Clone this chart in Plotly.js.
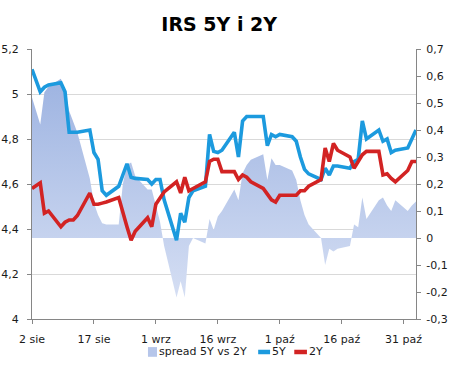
<!DOCTYPE html>
<html>
<head>
<meta charset="utf-8">
<script src="https://cdn.plot.ly/plotly-3.0.1.min.js"></script>
<style>html,body{margin:0;padding:0;background:#fff;}#chart{width:452px;height:365px;}</style>
</head>
<body>
<div id="chart"></div>
<script>
const dates = [
 '2010-08-02','2010-08-03','2010-08-04','2010-08-05','2010-08-06',
 '2010-08-09','2010-08-10','2010-08-11','2010-08-12','2010-08-13',
 '2010-08-16','2010-08-17','2010-08-18','2010-08-19','2010-08-20',
 '2010-08-23','2010-08-24','2010-08-25','2010-08-26','2010-08-27',
 '2010-08-30','2010-08-31','2010-09-01','2010-09-02','2010-09-03',
 '2010-09-06','2010-09-07','2010-09-08','2010-09-09','2010-09-10',
 '2010-09-13','2010-09-14','2010-09-15','2010-09-16','2010-09-17',
 '2010-09-20','2010-09-21','2010-09-22','2010-09-23','2010-09-24',
 '2010-09-27','2010-09-28','2010-09-29','2010-09-30','2010-10-01',
 '2010-10-04','2010-10-05','2010-10-06','2010-10-07','2010-10-08',
 '2010-10-11','2010-10-12','2010-10-13','2010-10-14','2010-10-15',
 '2010-10-18','2010-10-19','2010-10-20','2010-10-21','2010-10-22',
 '2010-10-25','2010-10-26','2010-10-27','2010-10-28','2010-10-29',
 '2010-11-01','2010-11-02','2010-11-03'
];
const rate5Y = [
 5.11,5.06,5.01,5.03,5.04,
 5.05,5.01,4.83,4.83,4.83,
 4.84,4.74,4.71,4.57,4.55,
 4.59,4.64,4.69,4.63,4.625,
 4.62,4.60,4.62,4.62,4.53,
 4.35,4.47,4.43,4.54,4.57,
 4.59,4.82,4.745,4.74,4.75,
 4.83,4.72,4.88,4.90,4.90,
 4.90,4.77,4.82,4.81,4.82,
 4.81,4.79,4.72,4.665,4.645,
 4.62,4.67,4.64,4.68,4.68,
 4.67,4.70,4.71,4.88,4.80,
 4.84,4.79,4.80,4.74,4.75,
 4.76,4.80,4.84
];
const rate2Y = [
 4.58,4.595,4.605,4.47,4.48,
 4.41,4.43,4.44,4.44,4.46,
 4.56,4.51,4.51,4.515,4.52,
 4.54,4.47,4.41,4.35,4.39,
 4.45,4.41,4.51,4.54,4.565,
 4.61,4.56,4.63,4.57,4.58,
 4.61,4.70,4.71,4.71,4.655,
 4.655,4.62,4.64,4.63,4.61,
 4.58,4.555,4.53,4.52,4.55,
 4.55,4.55,4.57,4.57,4.59,
 4.62,4.76,4.70,4.78,4.75,
 4.72,4.67,4.70,4.73,4.745,
 4.745,4.64,4.645,4.625,4.61,
 4.66,4.70,4.70
];
const spread = [
 0.52,0.47,0.42,0.54,0.56,
 0.59,0.54,0.47,0.43,0.39,
 0.22,0.13,0.085,0.055,0.05,
 0.05,0.20,0.27,0.28,0.23,
 0.18,0.18,0.12,0.06,-0.03,
 -0.22,-0.16,-0.22,-0.03,0.0,
 -0.02,0.07,0.03,0.08,0.10,
 0.18,0.14,0.24,0.27,0.29,
 0.31,0.215,0.295,0.27,0.27,
 0.25,0.215,0.14,0.085,0.05,
 0.0,-0.10,-0.04,-0.05,-0.04,
 -0.03,0.05,0.04,0.15,0.07,
 0.14,0.15,0.12,0.10,0.14,
 0.10,0.12,0.135
];
const seriesNames = ['spread 5Y vs 2Y', '5Y', '2Y'];
const xTickVals = ['2010-08-02','2010-08-17','2010-09-01','2010-09-16','2010-10-01','2010-10-16','2010-10-31'];
const xTickText = ['2 sie','17 sie','1 wrz','16 wrz','1 paź','16 paź','31 paź'];
const yLeftVals = [4,4.2,4.4,4.6,4.8,5,5.2];
const yLeftText = ['4','4,2','4,4','4,6','4,8','5','5,2'];
const yRightVals = [-0.3,-0.2,-0.1,0,0.1,0.2,0.3,0.4,0.5,0.6,0.7];
const yRightText = ['-0,3','-0,2','-0,1','0','0,1','0,2','0,3','0,4','0,5','0,6','0,7'];

const axisColor = '#868686';
const blue = '#1c9ade', red = '#d22323', areaCol = '#b6c6ea';
const font = {family: 'DejaVu Sans, Verdana, sans-serif', size: 11, color: '#1a1a1a'};

// spread on the base axis (right side) so the rate lines (overlay axis) draw on top
const traces = [
 {
  x: dates, y: spread, name: seriesNames[0], type: 'scatter', mode: 'lines',
  yaxis: 'y', fill: 'tozeroy', line: {width: 0, color: areaCol},
  fillcolor: areaCol,
  fillgradient: {type: 'vertical', start: -0.25, stop: 0.6,
    colorscale: [[0, '#d7e0f4'], [1, '#9db3e1']]},
  hoverinfo: 'skip'
 },
 {
  x: dates, y: rate5Y, name: seriesNames[1], type: 'scatter', mode: 'lines', yaxis: 'y2',
  line: {color: blue, width: 3.6}
 },
 {
  x: dates, y: rate2Y, name: seriesNames[2], type: 'scatter', mode: 'lines', yaxis: 'y2',
  line: {color: red, width: 3.6}
 }
];

// compact legend drawn in paper coordinates below the plot
const ly = -0.1222;
const shapes = [
  {type: 'rect', xref: 'paper', yref: 'paper', x0: 0.302, x1: 0.3255, y0: -0.104, y1: -0.140,
   fillcolor: areaCol, line: {width: 0}},
  {type: 'line', xref: 'paper', yref: 'paper', x0: 0.589, x1: 0.620, y0: ly, y1: ly,
   line: {color: blue, width: 4.5}},
  {type: 'line', xref: 'paper', yref: 'paper', x0: 0.683, x1: 0.716, y0: ly, y1: ly,
   line: {color: red, width: 4.5}}
];
const annotations = [
  {xref: 'paper', yref: 'paper', x: 0.326, y: ly, text: seriesNames[0], showarrow: false, xanchor: 'left', yanchor: 'middle', font: font},
  {xref: 'paper', yref: 'paper', x: 0.621, y: ly, text: seriesNames[1], showarrow: false, xanchor: 'left', yanchor: 'middle', font: font},
  {xref: 'paper', yref: 'paper', x: 0.717, y: ly, text: seriesNames[2], showarrow: false, xanchor: 'left', yanchor: 'middle', font: font}
];

const layout = {
  width: 452, height: 365,
  margin: {l: 32, r: 36, t: 49, b: 46, pad: 0, autoexpand: false},
  paper_bgcolor: '#ffffff', plot_bgcolor: '#ffffff',
  font: font,
  showlegend: false,
  title: {text: '<b>IRS 5Y i 2Y</b>', font: {family: 'DejaVu Sans, Verdana, sans-serif', size: 19, color: '#000'},
          xref: 'container', x: 0.485, xanchor: 'center', yref: 'container', y: 0.932, yanchor: 'middle'},
  xaxis: {
    type: 'date', range: ['2010-08-02', '2010-11-03'],
    tickvals: xTickVals, ticktext: xTickText,
    showgrid: false, zeroline: false,
    showline: true, linecolor: axisColor, linewidth: 1,
    ticks: 'outside', ticklen: 4, tickcolor: axisColor, tickfont: font,
    ticklabelstandoff: 6
  },
  yaxis: {
    range: [-0.3, 0.7], tickvals: yRightVals, ticktext: yRightText,
    side: 'right', showgrid: false, zeroline: false,
    showline: true, linecolor: axisColor, linewidth: 1,
    ticks: 'outside', ticklen: 4, tickcolor: axisColor, tickfont: font,
    ticklabelstandoff: 3
  },
  yaxis2: {
    range: [4, 5.2], tickvals: yLeftVals, ticktext: yLeftText,
    overlaying: 'y', side: 'left',
    showgrid: true, gridcolor: '#d9d9d9', gridwidth: 1, zeroline: false,
    showline: true, linecolor: axisColor, linewidth: 1,
    ticks: 'outside', ticklen: 4, tickcolor: axisColor, tickfont: font,
    ticklabelstandoff: 6
  },
  shapes: shapes,
  annotations: annotations
};

Plotly.newPlot('chart', traces, layout, {staticPlot: true, displayModeBar: false});
</script>
</body>
</html>
